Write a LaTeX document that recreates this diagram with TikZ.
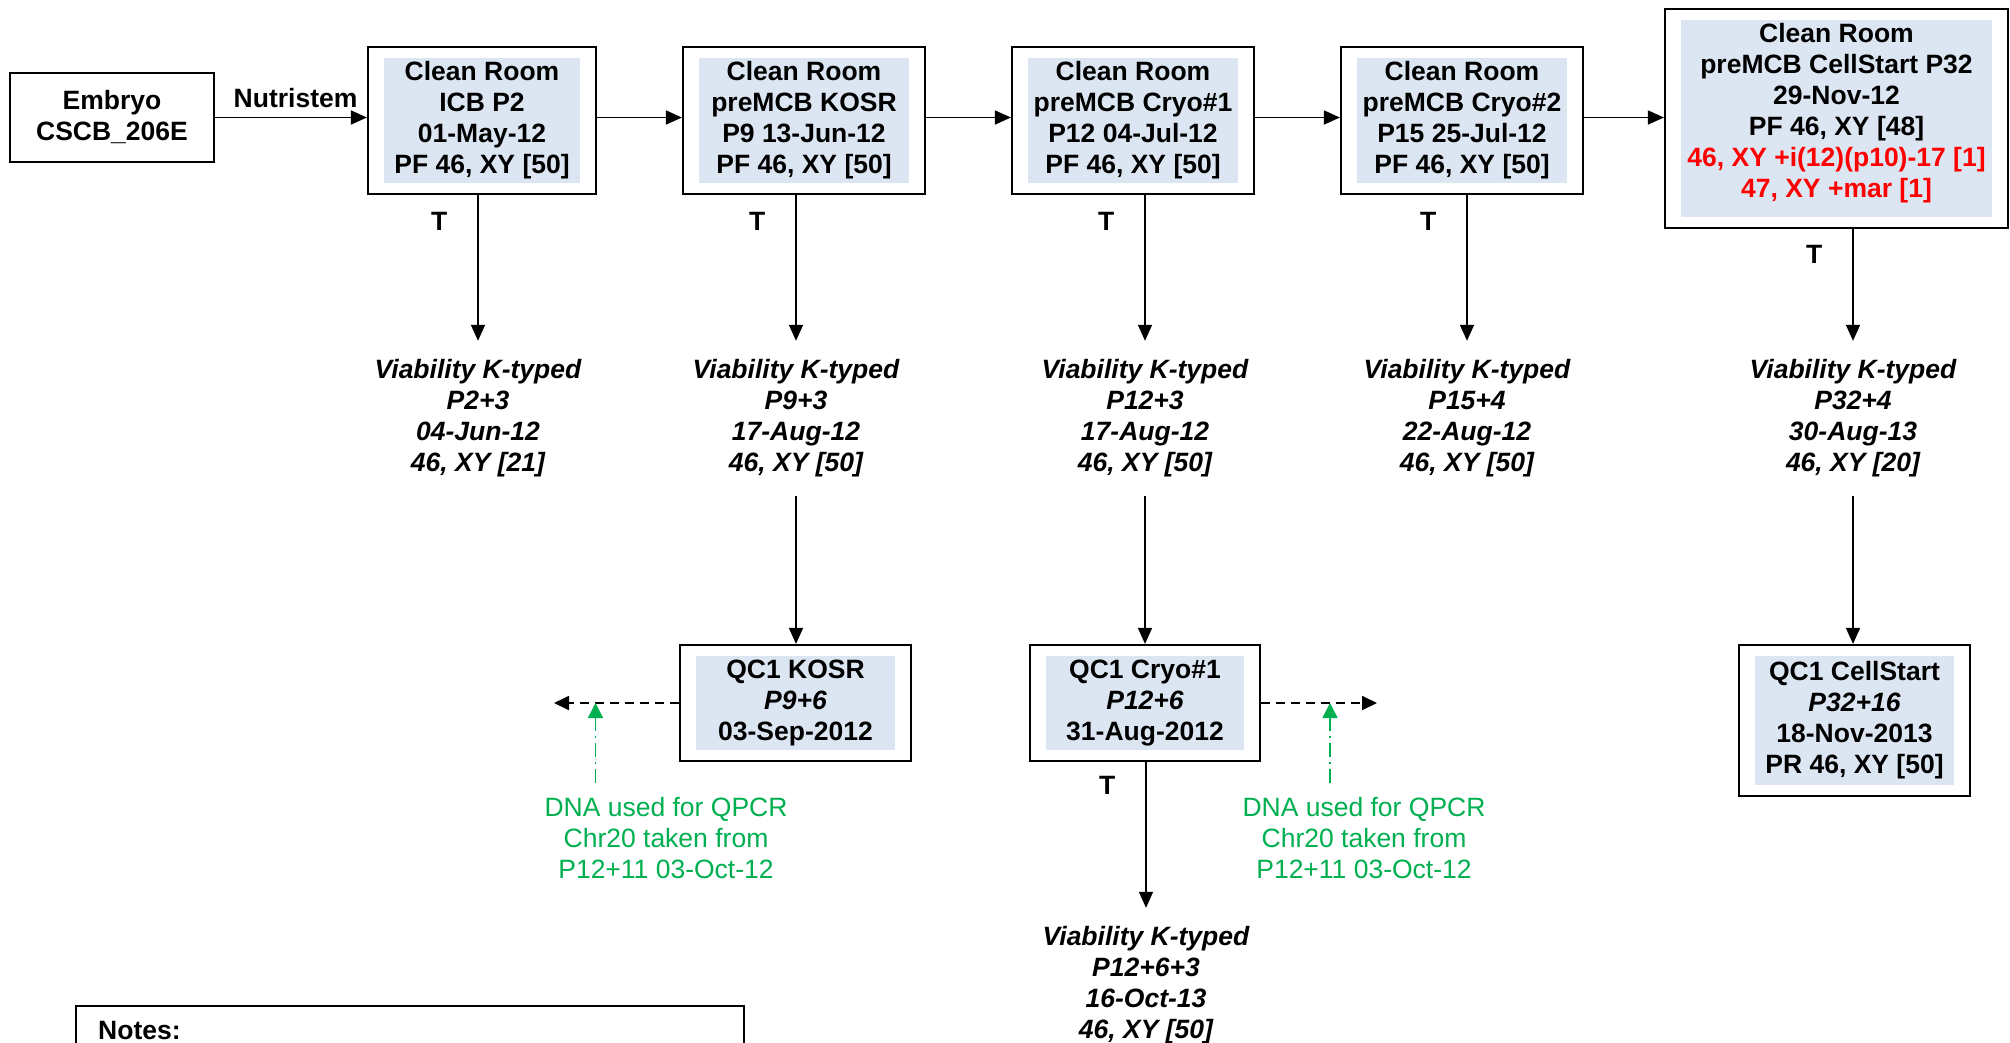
\documentclass[tikz,border=0pt]{standalone}
\usepackage{fontspec}
\setmainfont{Liberation Sans}
\usetikzlibrary{arrows.meta,calc}
\definecolor{boxfill}{RGB}{220,230,242}
\definecolor{qgreen}{RGB}{0,176,80}
\definecolor{kred}{RGB}{255,0,0}
\newcommand\dfont{\fontsize{26.5}{31}\selectfont}
\begin{document}
\begin{tikzpicture}[x=1pt,y=-1pt,
  panel/.style={draw, line width=2.2pt, align=center, inner sep=0pt,
    font=\dfont\bfseries,
    path picture={\fill[boxfill] ([shift={(16pt,-11pt)}]path picture bounding box.north west)
      rectangle ([shift={(-16pt,11pt)}]path picture bounding box.south east);}},
  plainbox/.style={draw, line width=2.2pt, align=center, inner sep=0pt, font=\dfont\bfseries},
  viab/.style={align=center, inner sep=0pt, minimum height=155pt, font=\dfont\bfseries\itshape},
  conn/.style={line width=1.6pt, -{Triangle[length=16pt,width=14pt]}},
  dasharr/.style={line width=1.8pt, dash pattern=on 9pt off 6pt, -{Triangle[length=15pt,width=14pt]}},
  greenarr/.style={qgreen, line width=1.6pt, dash pattern=on 14pt off 5pt on 2pt off 5pt, -{Triangle[length=15pt,width=15pt]}},
  greentxt/.style={qgreen, align=center, inner sep=0pt, minimum height=110pt, font=\dfont},
  tlab/.style={font=\dfont\bfseries, inner sep=0pt, left=30pt},
]
\useasboundingbox (0,0) rectangle (2010,1042);
\clip (0,0) rectangle (2010,1042);
\fill[white] (0,0) rectangle (2010,1042);

% top row
\node[plainbox, minimum width=204pt, minimum height=89pt] (emb) at (112,117.5) {Embryo\\CSCB\_206E};
\node[panel, minimum width=228pt, minimum height=147pt] (b1) at (482,120.5) {Clean Room\\ICB P2\\01-May-12\\PF 46, XY [50]};
\node[panel, minimum width=242pt, minimum height=147pt] (b2) at (804,120.5) {Clean Room\\preMCB KOSR\\P9 13-Jun-12\\PF 46, XY [50]};
\node[panel, minimum width=242pt, minimum height=147pt] (b3) at (1133,120.5) {Clean Room\\preMCB Cryo\#1\\P12 04-Jul-12\\PF 46, XY [50]};
\node[panel, minimum width=242pt, minimum height=147pt] (b4) at (1462,120.5) {Clean Room\\preMCB Cryo\#2\\P15 25-Jul-12\\PF 46, XY [50]};
\node[panel, minimum width=343pt, minimum height=219pt] (b5) at (1836.5,118.5) {Clean Room\\preMCB CellStart P32\\29-Nov-12\\PF 46, XY [48]\\\textcolor{kred}{46, XY +i(12)(p10)-17 [1]}\\\textcolor{kred}{47, XY +mar [1]}\\[-14pt]\mbox{}};

% viability row
\node[viab] (v1) at (478,418.5) {Viability K-typed\\P2+3\\04-Jun-12\\46, XY [21]};
\node[viab] (v2) at (796,418.5) {Viability K-typed\\P9+3\\17-Aug-12\\46, XY [50]};
\node[viab] (v3) at (1145,418.5) {Viability K-typed\\P12+3\\17-Aug-12\\46, XY [50]};
\node[viab] (v4) at (1467,418.5) {Viability K-typed\\P15+4\\22-Aug-12\\46, XY [50]};
\node[viab] (v5) at (1853,418.5) {Viability K-typed\\P32+4\\30-Aug-13\\46, XY [20]};

% QC row
\node[panel, minimum width=231pt, minimum height=116pt] (qk) at (795.5,703) {QC1 KOSR\\{\itshape P9+6}\\03-Sep-2012};
\node[panel, minimum width=230pt, minimum height=116pt] (qc) at (1145,703) {QC1 Cryo\#1\\{\itshape P12+6}\\31-Aug-2012};
\node[panel, minimum width=231pt, minimum height=151pt] (qcs) at (1854.5,720.5) {QC1 CellStart\\{\itshape P32+16}\\18-Nov-2013\\PR 46, XY [50]};

\node[viab] (v6) at (1146,985.5) {Viability K-typed\\P12+6+3\\16-Oct-13\\46, XY [50]};

% green notes
\node[greentxt] (gt1) at (666,838) {DNA used for QPCR\\Chr20 taken from\\P12+11 03-Oct-12};
\node[greentxt] (gt2) at (1364,838) {DNA used for QPCR\\Chr20 taken from\\P12+11 03-Oct-12};
\coordinate (ga1) at (595.5,783);
\coordinate (ga2) at (1330,783);
\coordinate (dl) at (554,703);
\coordinate (dr) at (1377,703);

% notes box
\node[draw, line width=2pt, anchor=north west, minimum width=668pt, minimum height=120pt] (notes) at (75,1005) {};
\node[font=\dfont\bfseries, anchor=west, inner sep=0pt] (notest) at (98,1030) {Notes:};

% connectors
\draw[conn] (emb.east) -- node[pos=0.53, above, inner sep=9pt, font=\dfont\bfseries] (nut) {Nutristem} (emb.east -| b1.west);
\draw[conn] (b1.east |- emb.east) -- (b2.west |- emb.east);
\draw[conn] (b2.east |- emb.east) -- (b3.west |- emb.east);
\draw[conn] (b3.east |- emb.east) -- (b4.west |- emb.east);
\draw[conn] (b4.east |- emb.east) -- (b5.west |- emb.east);

\draw[conn] (b1.south -| v1) -- node[tlab, pos=0.18] (t1) {T} (v1.north);
\draw[conn] (b2.south -| v2) -- node[tlab, pos=0.18] (t2) {T} (v2.north);
\draw[conn] (b3.south -| v3) -- node[tlab, pos=0.18] (t3) {T} (v3.north);
\draw[conn] (b4.south -| v4) -- node[tlab, pos=0.18] (t4) {T} (v4.north);
\draw[conn] (b5.south -| v5) -- node[tlab, pos=0.23] (t5) {T} (v5.north);

\draw[conn] (v2.south) -- (v2.south |- qk.north);
\draw[conn] (v3.south) -- (v3.south |- qc.north);
\draw[conn] (v5.south) -- (v5.south |- qcs.north);
\draw[conn] (qc.south -| v6) -- node[tlab, pos=0.16] (t6) {T} (v6.north);

\draw[dasharr] (qk.west) -- (dl);
\draw[dasharr] (qc.east) -- (dr);
\draw[greenarr] (ga1) -- (ga1 |- qk.west);
\draw[greenarr] (ga2) -- (ga2 |- qc.east);
\end{tikzpicture}
\end{document}
